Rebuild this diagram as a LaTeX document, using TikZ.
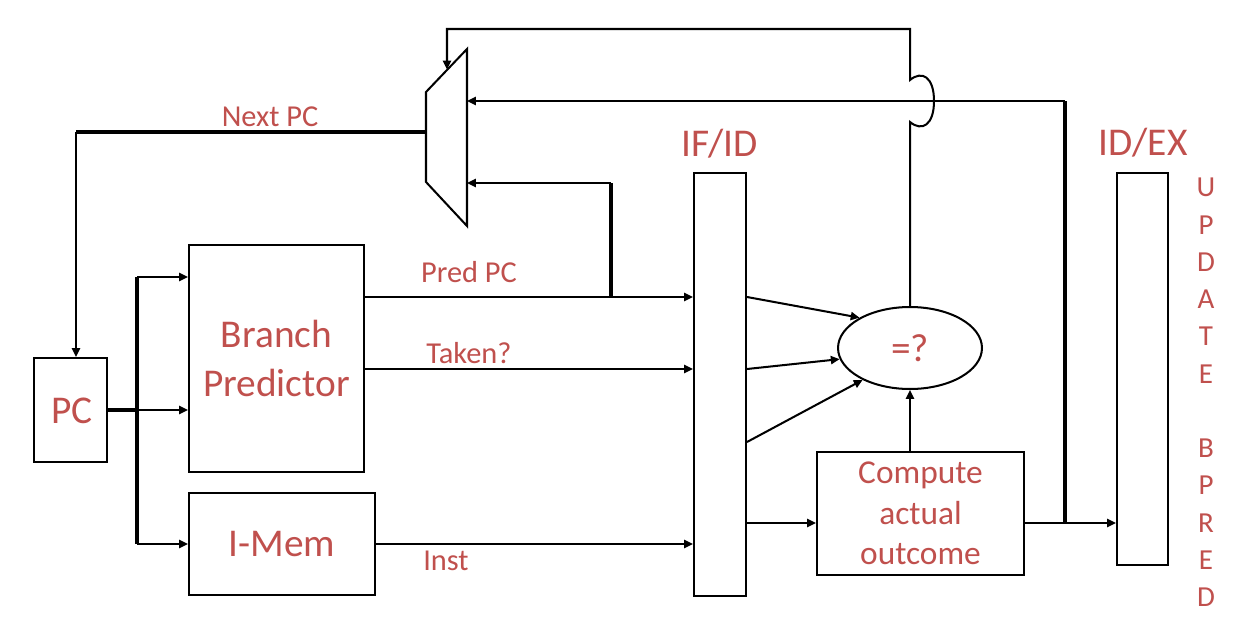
\documentclass[tikz,border=0pt]{standalone}
\usepackage{fontspec}
\setmainfont{Carlito}
\usetikzlibrary{arrows.meta,shapes.geometric,calc}
\definecolor{lbl}{HTML}{C0504D}
\begin{document}
\begin{tikzpicture}[x=0.02cm,y=-0.02cm,
  wire/.style={line width=1.15pt},
  heavy/.style={line width=2pt},
  arr/.style={line width=1.15pt,-{Triangle[length=5pt,width=4.6pt]}},
  blk/.style={draw,line width=1.15pt,inner sep=0pt,text=lbl,align=center},
  bigf/.style={font={\fontsize{22.4}{27.8}\selectfont}},
  midf/.style={font={\fontsize{19}{23.2}\selectfont}},
  lblf/.style={text=lbl,inner sep=0pt,anchor=base,font={\fontsize{17.3}{20}\selectfont}},
  reg/.style={draw,line width=1.15pt,inner sep=0pt}]
\useasboundingbox[fill=white] (0,0) rectangle (1254,622);

% helper coordinates (rows / columns)
\coordinate (yTop) at (0,29);
\coordinate (yMid) at (0,101);
\coordinate (yNext) at (0,132);
\coordinate (yLow) at (0,183);
\coordinate (yBp) at (0,277);
\coordinate (yPred) at (0,297);
\coordinate (yTaken) at (0,369);
\coordinate (yThird) at (0,442);
\coordinate (yCmp) at (0,523);
\coordinate (yInst) at (0,544);
\coordinate (xPCin) at (76,0);
\coordinate (xBus) at (137,0);
\coordinate (xBr) at (611,0);
\coordinate (xUp) at (910,0);
\coordinate (xRet) at (1065,0);
\coordinate (hopLo) at (910,122);
\coordinate (hopHi) at (910,80);

% blocks
\node[blk,bigf,minimum width=1.46cm,minimum height=2.08cm] (pc) at (70.5,410) {};
\node[lbl,inner sep=0pt,anchor=base,font={\fontsize{22.4}{27.8}\selectfont}] (pctxt) at (72,423) {PC};
\node[blk,bigf,minimum width=3.5cm,minimum height=4.54cm] (bp) at (276.5,358.5) {Branch\\Predictor};
\node[blk,bigf,minimum width=3.72cm,minimum height=2.04cm] (imem) at (282,544) {I-Mem};
\node[reg,minimum width=1.04cm,minimum height=8.46cm] (ifid) at (720,384.5) {};
\node[reg,minimum width=1.02cm,minimum height=7.84cm] (idex) at (1142.5,369) {};
\node[blk,midf,minimum width=4.14cm,minimum height=2.46cm] (cmp) at (920.5,513.5) {Compute\\actual\\outcome};
\node[blk,bigf,ellipse,minimum width=2.88cm,minimum height=1.64cm] (eq) at (910,348) {=?};

% mux
\draw[wire,line join=miter] (426,92) coordinate (m1) -- (467,49) coordinate (m2)
  -- (467,226) coordinate (m3) -- (426,182) coordinate (m4) -- cycle;
\coordinate (muxL) at (426,132);
\coordinate (muxR) at (467,0);
\coordinate (muxTip) at (447,69.5);

% register labels
\node[text=lbl,inner sep=0pt,anchor=base,font={\fontsize{22.4}{27.8}\selectfont}] (ifidl) at (720,156) {IF/ID};
\node[text=lbl,inner sep=0pt,anchor=base,font={\fontsize{22.4}{27.8}\selectfont}] (idexl) at (1143,155) {ID/EX};
\node[text=lbl,inner sep=0pt,align=center,font={\fontsize{16.5}{21.2}\selectfont}] (upd) at (1206,392.5)
  {U\\P\\D\\A\\T\\E\\\mbox{}\\B\\P\\R\\E\\D};

% wire labels
\node[lblf] (lnext) at (270,126) {Next PC};
\node[lblf] (lpred) at (469,282) {Pred PC};
\node[lblf] (ltaken) at (469,363) {Taken?};
\node[lblf] (linst) at (446,570) {Inst};

% next PC path
\draw[heavy] (muxL) -- (xPCin |- yNext);
\draw[arr] (xPCin |- yNext) -- (xPCin |- pc.north);

% PC fan-out
\draw[heavy] (pc.east) -- (xBus |- pc.east);
\draw[heavy] (xBus |- yBp) -- (xBus |- yInst);
\draw[arr] (xBus |- yBp) -- (bp.west |- yBp);
\draw[arr] (xBus |- pc.east) -- (bp.west |- pc.east);
\draw[arr] (xBus |- yInst) -- (imem.west);

% into IF/ID
\draw[arr] (bp.east |- yPred) -- (ifid.west |- yPred);
\draw[arr] (bp.east |- yTaken) -- (ifid.west |- yTaken);
\draw[arr] (imem.east) -- (ifid.west |- imem.east);

% predicted PC to mux
\draw[heavy] (xBr |- yPred) -- (xBr |- yLow);
\draw[arr] (xBr |- yLow) -- (muxR |- yLow);

% IF/ID to comparator and compute
\draw[arr] (ifid.east |- yPred) -- (eq.149);
\draw[arr] (ifid.east |- yTaken) -- (eq.189);
\draw[arr] (ifid.east |- yThird) -- (eq.214);
\draw[arr] (ifid.east |- yCmp) -- (cmp.west |- yCmp);
\draw[arr] (eq.south |- cmp.north) -- (eq.south);

% compute outcome onward
\draw[arr] (cmp.east |- yCmp) -- (idex.west |- yCmp);
\draw[heavy] (xRet |- yCmp) -- (xRet |- yMid);
\draw[arr] (xRet |- yMid) -- (muxR |- yMid);

% comparator result back to mux (with hop over the return line)
\draw[arr,line join=miter] (eq.north) -- (hopLo)
  .. controls (922,132) and (934,125) .. (934,101)
  .. controls (934,77) and (922,70) .. (hopHi)
  -- (xUp |- yTop) -- (muxTip |- yTop) -- (muxTip);
\end{tikzpicture}
\end{document}
